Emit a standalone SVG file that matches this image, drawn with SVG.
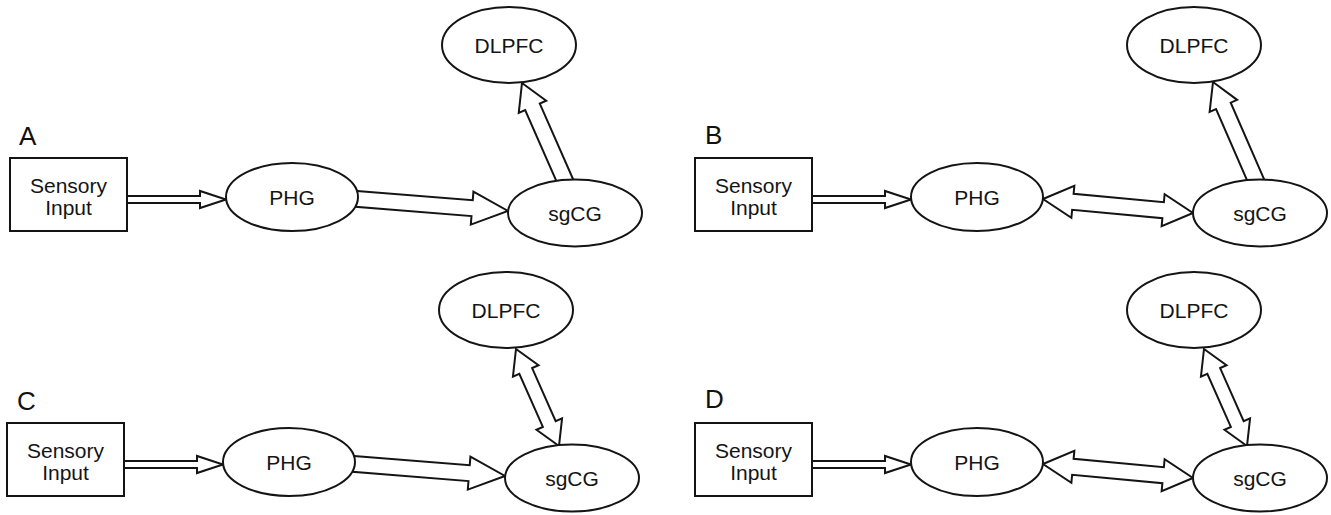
<svg xmlns="http://www.w3.org/2000/svg" width="1331" height="515" viewBox="0 0 1331 515">
<defs>
<style>
.box{fill:#fff;stroke:#141414;stroke-width:2}
.arr{fill:#fff;stroke:#141414;stroke-width:2;stroke-linejoin:miter}
.t{font-family:"Liberation Sans",Arial,Helvetica,sans-serif;font-size:21px;fill:#141414;text-anchor:middle}
.lbl{font-family:"Liberation Sans",Arial,Helvetica,sans-serif;font-size:26px;fill:#111}
</style>
</defs>
<rect width="1331" height="515" fill="#fff"/>

<!-- Panel A -->
<g id="panelA">
  <g id="A-connectors">
    <polygon class="arr" points="120,196 200,196 200,191 226,199.5 200,208 200,203 120,203"/>
    <polygon class="arr" points="350.67,190.38 472.75,200.15 473.43,191.68 508,211 470.80,224.58 471.48,216.10 349.39,206.33"/>
    <polygon class="arr" points="561.90,193.54 525.15,110.02 518.74,112.84 522,83 546.20,100.76 539.79,103.58 576.54,187.10"/>
  </g>
  <text class="lbl" x="19" y="145">A</text>
  <g id="A-sensory"><rect class="box" x="10" y="158" width="117" height="73"/><text class="t" x="68.5" y="193">Sensory</text><text class="t" x="68.5" y="215">Input</text></g>
  <g id="A-phg"><ellipse class="box" cx="292" cy="197" rx="66" ry="34"/><text class="t" x="292" y="204.5">PHG</text></g>
  <g id="A-sgcg"><ellipse class="box" cx="575" cy="213" rx="67" ry="33.5"/><text class="t" x="575" y="220.5">sgCG</text></g>
  <g id="A-dlpfc"><ellipse class="box" cx="509" cy="45" rx="67" ry="38"/><text class="t" x="509" y="52.5">DLPFC</text></g>
</g>

<!-- Panel B -->
<g id="panelB" transform="translate(685,0)">
  <g id="B-connectors">
    <polygon class="arr" points="120,196 200,196 200,191 226,199.5 200,208 200,203 120,203"/>
    <polygon class="arr" points="358,199 389.36,185.86 388.61,193.83 478.87,202.25 479.62,194.28 508,213 476.64,226.14 477.39,218.18 387.13,209.76 386.38,217.72"/>
    <polygon class="arr" points="567.87,193.53 531.05,109.04 524.63,111.83 528,82 552.13,99.85 545.71,102.65 582.53,187.14"/>
  </g>
  <text class="lbl" x="20" y="144">B</text>
  <g id="B-sensory"><rect class="box" x="10" y="158" width="117" height="73"/><text class="t" x="68.5" y="193">Sensory</text><text class="t" x="68.5" y="215">Input</text></g>
  <g id="B-phg"><ellipse class="box" cx="292" cy="197" rx="66" ry="34"/><text class="t" x="292" y="204.5">PHG</text></g>
  <g id="B-sgcg"><ellipse class="box" cx="575" cy="213" rx="67" ry="33.5"/><text class="t" x="575" y="220.5">sgCG</text></g>
  <g id="B-dlpfc"><ellipse class="box" cx="509" cy="45" rx="67" ry="38"/><text class="t" x="509" y="52.5">DLPFC</text></g>
</g>

<!-- Panel C -->
<g id="panelC" transform="translate(-3,265)">
  <g id="C-connectors">
    <polygon class="arr" points="120,196 200,196 200,191 226,199.5 200,208 200,203 120,203"/>
    <polygon class="arr" points="350.67,190.38 472.75,200.15 473.43,191.68 508,211 470.80,224.58 471.48,216.10 349.39,206.33"/>
    <polygon class="arr" points="519,84 541.53,100.27 535.13,103.10 558.67,156.22 565.07,153.39 562,181 539.47,164.73 545.87,161.90 522.33,108.78 515.93,111.61"/>
  </g>
  <text class="lbl" x="20" y="145">C</text>
  <g id="C-sensory"><rect class="box" x="10" y="158" width="117" height="73"/><text class="t" x="68.5" y="193">Sensory</text><text class="t" x="68.5" y="215">Input</text></g>
  <g id="C-phg"><ellipse class="box" cx="292" cy="197" rx="66" ry="34"/><text class="t" x="292" y="204.5">PHG</text></g>
  <g id="C-sgcg"><ellipse class="box" cx="575" cy="213" rx="67" ry="33.5"/><text class="t" x="575" y="220.5">sgCG</text></g>
  <g id="C-dlpfc"><ellipse class="box" cx="509" cy="45" rx="67" ry="38"/><text class="t" x="509" y="52.5">DLPFC</text></g>
</g>

<!-- Panel D -->
<g id="panelD" transform="translate(685,265)">
  <g id="D-connectors">
    <polygon class="arr" points="120,196 200,196 200,191 226,199.5 200,208 200,203 120,203"/>
    <polygon class="arr" points="358,199 389.36,185.86 388.61,193.83 478.87,202.25 479.62,194.28 508,213 476.64,226.14 477.39,218.18 387.13,209.76 386.38,217.72"/>
    <polygon class="arr" points="519,84 541.53,100.27 535.13,103.10 558.67,156.22 565.07,153.39 562,181 539.47,164.73 545.87,161.90 522.33,108.78 515.93,111.61"/>
  </g>
  <text class="lbl" x="20" y="143">D</text>
  <g id="D-sensory"><rect class="box" x="10" y="158" width="117" height="73"/><text class="t" x="68.5" y="193">Sensory</text><text class="t" x="68.5" y="215">Input</text></g>
  <g id="D-phg"><ellipse class="box" cx="292" cy="197" rx="66" ry="34"/><text class="t" x="292" y="204.5">PHG</text></g>
  <g id="D-sgcg"><ellipse class="box" cx="575" cy="213" rx="67" ry="33.5"/><text class="t" x="575" y="220.5">sgCG</text></g>
  <g id="D-dlpfc"><ellipse class="box" cx="509" cy="45" rx="67" ry="38"/><text class="t" x="509" y="52.5">DLPFC</text></g>
</g>
</svg>
